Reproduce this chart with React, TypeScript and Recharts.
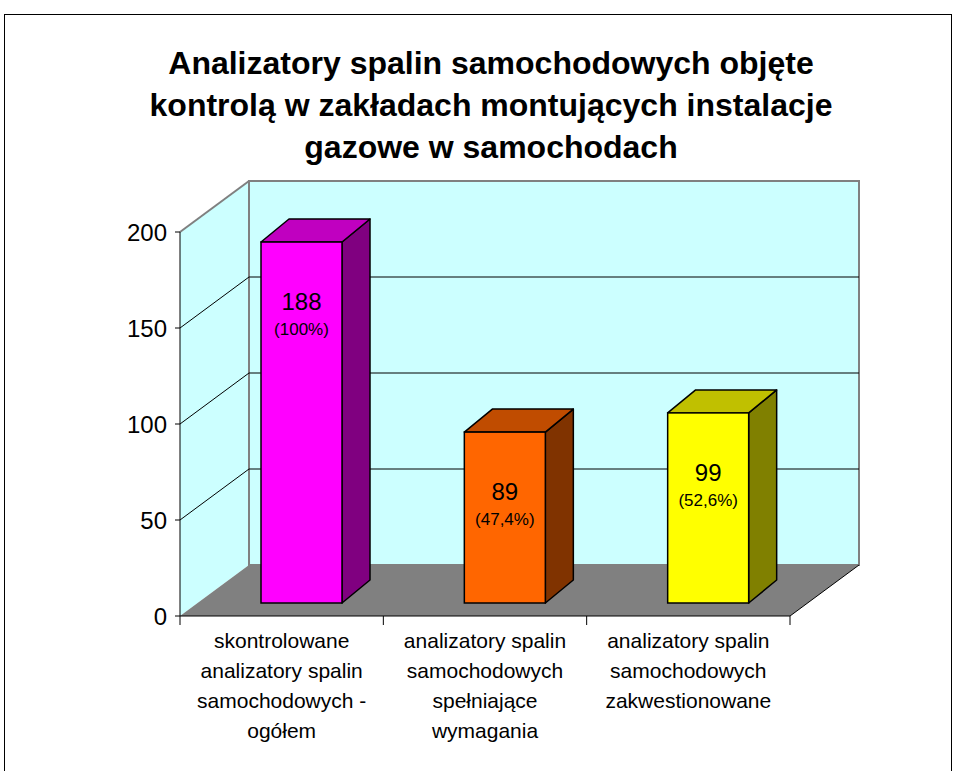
import React from "react";
import { BarChart, Bar, XAxis, YAxis, ReferenceArea } from "recharts";

// category labels, already broken into lines like in the original sheet
const categoryLines = [
  ["skontrolowane", "analizatory spalin", "samochodowych -", "ogółem"],
  ["analizatory spalin", "samochodowych", "spełniające", "wymagania"],
  ["analizatory spalin", "samochodowych", "zakwestionowane"],
];
const values = [188, 89, 99];
const shares = ["100%", "47,4%", "52,6%"];
const yTicks = [0, 50, 100, 150, 200];
const gridValues = [50, 100, 150];

const frontColors = ["#FF00FF", "#FF6600", "#FFFF00"];
const topColors = ["#C000C0", "#C04C00", "#C0C000"];
const sideColors = ["#800080", "#803300", "#808000"];

const data = categoryLines.map((lines, i) => ({
  name: lines.join(" "),
  lines,
  value: values[i],
  share: shares[i],
}));

const FONT = '"Liberation Sans", Arial, sans-serif';
const Y_MAX = 200;

// 3d depth of the walls and the bars
const WALL_DX = 69;
const WALL_DY = 51;
const SHIFT_X = 20;
const SHIFT_Y = 13;
const BAR_DX = 28;
const BAR_DY = 23;

function Walls(props: any) {
  const { x, y, width, height } = props;
  const bottom = y + height;
  const yOf = (v: number) => y + height * (1 - v / Y_MAX);
  const n = categoryLines.length;
  return (
    <g>
      <polygon
        points={`${x},${y} ${x + WALL_DX},${y - WALL_DY} ${x + WALL_DX},${bottom - WALL_DY} ${x},${bottom}`}
        fill="#CCFFFF"
      />
      <rect
        x={x + WALL_DX}
        y={y - WALL_DY}
        width={width}
        height={height}
        fill="#CCFFFF"
        stroke="#808080"
        strokeWidth={2}
      />
      <line x1={x} y1={y} x2={x + WALL_DX} y2={y - WALL_DY} stroke="#808080" strokeWidth={2} />
      <polygon
        points={`${x},${bottom} ${x + WALL_DX},${bottom - WALL_DY} ${x + width + WALL_DX},${bottom - WALL_DY} ${x + width},${bottom}`}
        fill="#808080"
      />
      <line
        x1={x + width}
        y1={bottom}
        x2={x + width + WALL_DX}
        y2={bottom - WALL_DY}
        stroke="#000"
        strokeWidth={1}
      />
      {gridValues.map((v) => {
        const yy = yOf(v);
        return (
          <g key={v}>
            <line x1={x} y1={yy} x2={x + WALL_DX} y2={yy - WALL_DY} stroke="#000" strokeWidth={1} />
            <line
              x1={x + WALL_DX}
              y1={yy - WALL_DY}
              x2={x + width + WALL_DX}
              y2={yy - WALL_DY}
              stroke="#000"
              strokeWidth={1}
            />
          </g>
        );
      })}
      {Array.from({ length: n + 1 }, (_, i) => (
        <line
          key={i}
          x1={x + (i * width) / n}
          y1={bottom}
          x2={x + (i * width) / n}
          y2={bottom + 9}
          stroke="#000"
          strokeWidth={1}
        />
      ))}
    </g>
  );
}

function Bar3D(props: any) {
  const { x, y, width, height, index } = props;
  const fx = x + SHIFT_X;
  const fy = y - SHIFT_Y;
  const w = width;
  const h = height;
  const cx = fx + w / 2;
  return (
    <g>
      <polygon
        points={`${fx + w},${fy} ${fx + w + BAR_DX},${fy - BAR_DY} ${fx + w + BAR_DX},${fy + h - BAR_DY} ${fx + w},${fy + h}`}
        fill={sideColors[index]}
        stroke="#000"
        strokeWidth={1.5}
        strokeLinejoin="round"
      />
      <polygon
        points={`${fx},${fy} ${fx + BAR_DX},${fy - BAR_DY} ${fx + w + BAR_DX},${fy - BAR_DY} ${fx + w},${fy}`}
        fill={topColors[index]}
        stroke="#000"
        strokeWidth={1.5}
        strokeLinejoin="round"
      />
      <rect x={fx} y={fy} width={w} height={h} fill={frontColors[index]} stroke="#000" strokeWidth={1.5} />
      <text x={cx} y={fy + 68} textAnchor="middle" fontSize={24} fontFamily={FONT} fill="#000">
        {values[index]}
      </text>
      <text x={cx} y={fy + 93} textAnchor="middle" fontSize={17} fontFamily={FONT} fill="#000">
        ({shares[index]})
      </text>
    </g>
  );
}

function CategoryTick(props: any) {
  const { x, y, payload, index } = props;
  const lines = categoryLines[index ?? payload.index] || [String(payload.value)];
  return (
    <text x={x} y={y} textAnchor="middle" fontSize={21} fontFamily={FONT} fill="#000">
      {lines.map((line: string, i: number) => (
        <tspan key={i} x={x} dy={i === 0 ? 24 : 30}>
          {line}
        </tspan>
      ))}
    </text>
  );
}

export default function App() {
  return (
    <div
      style={{
        position: "fixed",
        left: 0,
        top: 0,
        width: 954,
        height: 771,
        overflow: "hidden",
        background: "#fff",
        fontFamily: FONT,
      }}
    >
      <div
        style={{
          position: "absolute",
          left: 4,
          top: 14,
          width: 946,
          height: 800,
          border: "1px solid #000",
        }}
      />
      <div
        style={{
          position: "absolute",
          left: 0,
          top: 42,
          width: 982,
          textAlign: "center",
          fontSize: 32,
          fontWeight: "bold",
          lineHeight: "42px",
          color: "#000",
        }}
      >
        Analizatory spalin samochodowych objęte
        <br />
        kontrolą w zakładach montujących instalacje
        <br />
        gazowe w samochodach
      </div>
      <div style={{ position: "absolute", left: 0, top: 0 }}>
        <BarChart
          width={954}
          height={771}
          data={data}
          margin={{ top: 232, right: 164, bottom: 25, left: 120 }}
          barCategoryGap="30%"
        >
          <ReferenceArea y1={0} y2={Y_MAX} ifOverflow="visible" shape={<Walls />} />
          <XAxis
            dataKey="name"
            height={130}
            interval={0}
            axisLine={{ stroke: "#000" }}
            tickLine={false}
            tick={<CategoryTick />}
          />
          <YAxis
            width={60}
            domain={[0, Y_MAX]}
            ticks={yTicks}
            interval={0}
            axisLine={{ stroke: "#000" }}
            tickLine={{ stroke: "#000" }}
            tickSize={5}
            tickMargin={8}
            tick={{ fill: "#000", fontSize: 24, fontFamily: FONT }}
          />
          <Bar dataKey="value" shape={<Bar3D />} isAnimationActive={false} />
        </BarChart>
      </div>
    </div>
  );
}
